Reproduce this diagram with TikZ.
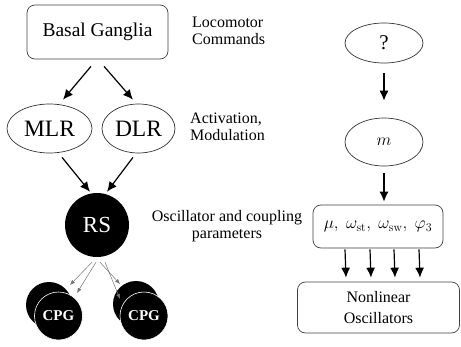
\documentclass[tikz,border=0pt]{standalone}
\usepackage[no-math]{fontspec}
\setmainfont{Liberation Serif}
\usetikzlibrary{shapes.geometric,arrows.meta}
\begin{document}
\begin{tikzpicture}[x=1pt,y=-1pt,
  arr/.style={-{Latex[length=10pt,width=9pt]}, line width=1.2pt},
  garr/.style={-{Latex[length=5pt,width=4pt]}, line width=0.5pt, black!55},
  rbox/.style={draw=black!75, rounded corners=8pt, line width=0.7pt, inner sep=0pt},
  ell/.style={draw=black!80, ellipse, line width=0.7pt, inner sep=0pt},
  lbl/.style={font=\fontsize{16}{17}\selectfont, align=left, anchor=west, inner sep=0pt},
  backc/.style={circle, fill=black, inner sep=0pt, minimum size=46pt},
  frontc/.style={circle, fill=black, draw=white, line width=0.6pt, inner sep=0pt, minimum size=48pt,
    text=white, font=\fontsize{15}{16}\selectfont\bfseries},
]
\useasboundingbox (0,0) rectangle (461,346);
% left column
\node[rbox, minimum width=141pt, minimum height=54pt, font=\fontsize{19.5}{22}\selectfont] (bg) at (97.5,32) {Basal Ganglia};
\node[ell, minimum width=85pt, minimum height=49pt, font=\fontsize{23.5}{26}\selectfont] (mlr) at (49.5,128.5) {MLR};
\node[ell, minimum width=73pt, minimum height=49pt, font=\fontsize{23.5}{26}\selectfont] (dlr) at (138.5,128.5) {DLR};
\node[circle, fill=black, inner sep=0pt, minimum size=64pt, text=white, font=\fontsize{23}{26}\selectfont] (rs) at (97,225) {RS};
\node[backc] (cpgLb) at (49,305) {};
\node[frontc] (cpgL) at (58.5,316) {CPG};
\node[backc] (cpgRb) at (136,304) {};
\node[frontc] (cpgR) at (144,316) {CPG};
% labels
\node[lbl] (loc) at (192,31) {Locomotor\\Commands};
\node[lbl] (act) at (190,127) {Activation,\\Modulation};
\node[font=\fontsize{16}{17}\selectfont, align=center, inner sep=0pt] (osc) at (227,226) {Oscillator and coupling\\parameters};
% right column
\node[ell, minimum width=78pt, minimum height=40pt, font=\fontsize{21}{22}\selectfont] (q) at (384,43) {?};
\node[ell, minimum width=78pt, minimum height=48pt, font=\fontsize{18}{20}\selectfont] (m) at (384,142) {$m$};
\node[rbox, minimum width=130pt, minimum height=43pt, font=\fontsize{18}{20}\selectfont] (par) at (378,226.5) {$\mu,\ \omega_{\mathrm{st}},\ \omega_{\mathrm{sw}},\ \varphi_3$};
\node[rbox, minimum width=162pt, minimum height=51pt, align=center, font=\fontsize{16}{21}\selectfont] (osc2) at (378.5,307.5) {Nonlinear\\Oscillators};
% arrows left
\draw[arr] ([shift={(-6.5,7)}]bg.south) -- ([shift={(13.5,-4)}]mlr.north);
\draw[arr] ([shift={(6.5,7)}]bg.south) -- ([shift={(-5.5,-4)}]dlr.north);
\draw[arr] ([shift={(12.5,4)}]mlr.south) -- ([shift={(-7,-1)}]rs.north);
\draw[arr] ([shift={(-5.5,4)}]dlr.south) -- ([shift={(10,-1)}]rs.north);
\draw[garr] ([shift={(-5,5)}]rs.south) -- ([shift={(21,-20)}]cpgLb.center);
\draw[garr] ([shift={(-1,5)}]rs.south) -- ([shift={(18.5,-23)}]cpgL.center);
\draw[garr] ([shift={(3,5)}]rs.south) -- ([shift={(-16,-20)}]cpgRb.center);
\draw[garr] ([shift={(8,5)}]rs.south) -- ([shift={(-24,-17)}]cpgR.center);
% arrows right
\draw[arr] ([shift={(0,10)}]q.south) -- ([shift={(0,-17)}]m.north);
\draw[arr] ([shift={(0,7)}]m.south) -- ([shift={(6,-3)}]par.north);
\foreach \dx/\nm in {-33/a,-8/b,16/c,41/d}{
  \draw[arr] ([shift={(\dx,1)}]par.south) -- ([shift={(\dx+0.5,-4)}]osc2.north);
}
\end{tikzpicture}
\end{document}
